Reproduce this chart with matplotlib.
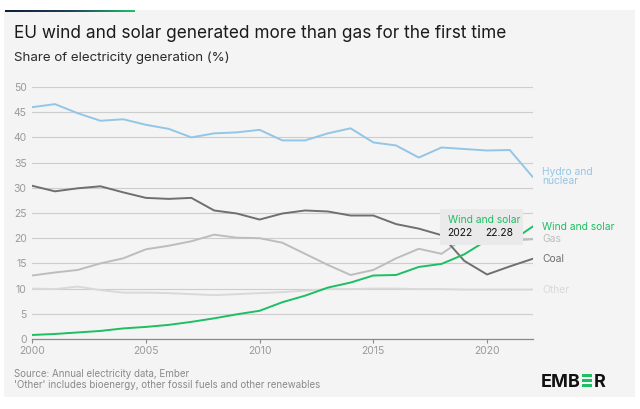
import matplotlib.pyplot as plt
import numpy as np
from matplotlib.patches import Rectangle
from matplotlib.transforms import Affine2D
from matplotlib.colors import LinearSegmentedColormap

plt.rcParams['font.family'] = ['Inter', 'DejaVu Sans']

years = list(range(2000, 2023))
hydro_nuclear = [46.0, 46.6, 44.8, 43.3, 43.6, 42.5, 41.7, 40.0, 40.8, 41.0, 41.5, 39.4,
                 39.4, 40.8, 41.8, 39.0, 38.4, 36.0, 38.0, 37.7, 37.4, 37.5, 32.2]
coal = [30.4, 29.3, 29.9, 30.3, 29.1, 28.0, 27.8, 28.0, 25.5, 24.9, 23.7, 24.9,
        25.5, 25.3, 24.5, 24.5, 22.8, 21.9, 20.6, 15.5, 12.8, 14.4, 15.9]
gas = [12.6, 13.2, 13.7, 15.0, 16.0, 17.8, 18.5, 19.4, 20.7, 20.1, 20.0, 19.1,
       16.9, 14.7, 12.7, 13.7, 16.0, 17.9, 16.9, 20.0, 20.0, 19.5, 19.8]
other = [10.0, 9.9, 10.4, 9.7, 9.2, 9.2, 9.1, 8.9, 8.7, 8.9, 9.1, 9.3,
         9.6, 9.9, 9.9, 10.0, 10.0, 9.9, 9.9, 9.8, 9.8, 9.8, 9.8]
wind_solar = [0.8, 1.0, 1.3, 1.6, 2.1, 2.4, 2.8, 3.4, 4.1, 4.9, 5.6, 7.3,
              8.6, 10.2, 11.2, 12.6, 12.7, 14.3, 14.9, 16.8, 19.6, 19.2, 22.28]

series = [
    ("Hydro and\nnuclear", hydro_nuclear, "#93c6e6"),
    ("Other", other, "#d9d9d9"),
    ("Gas", gas, "#bdbdbd"),
    ("Coal", coal, "#6f6f6f"),
    ("Wind and solar", wind_solar, "#1dbf62"),
]

fig = plt.figure(figsize=(6.4, 4.09), dpi=100, facecolor="white")
W, H = 640, 409

# grey card background and the small gradient bar on top
fig.patches.append(Rectangle((4 / W, 1 - 397 / H), 631 / W, 387 / H,
                             transform=fig.transFigure, facecolor="#f4f4f4",
                             edgecolor="none", zorder=-10))
bar = fig.add_axes([5 / W, 1 - 12 / H, 130 / W, 2.5 / H])
grad = np.linspace(0, 1, 256).reshape(1, -1)
bar.imshow(grad, aspect="auto",
           cmap=LinearSegmentedColormap.from_list("g", ["#0c1e3c", "#1f3f5a", "#21c06a"]))
bar.axis("off")

fig.text(14 / W, 1 - 33 / H, "EU wind and solar generated more than gas for the first time",
         fontsize=12.4, color="#1a1a1a", va="center", ha="left")
fig.text(14 / W, 1 - 58 / H, "Share of electricity generation (%)",
         fontsize=9.6, color="#2a2a2a", va="center", ha="left")

ax = fig.add_axes([32.2 / W, 1 - 339 / H, 500.3 / W, 252 / H])
ax.set_facecolor("none")
ax.set_xlim(2000, 2022)
ax.set_ylim(0, 50)
ax.set_yticks(range(0, 51, 5))
ax.set_xticks(range(2000, 2021, 5))
ax.grid(axis="y", color="#cdcdcd", linewidth=0.8)
ax.set_axisbelow(True)
for s in ["top", "right", "left"]:
    ax.spines[s].set_visible(False)
ax.spines["bottom"].set_color("#8a8a8a")
ax.spines["bottom"].set_linewidth(0.9)
ax.tick_params(axis="y", length=0, pad=4, labelsize=7.5, labelcolor="#9a9a9a")
ax.tick_params(axis="x", length=3, color="#8a8a8a", pad=2, labelsize=7.5, labelcolor="#9a9a9a")

for name, vals, col in series:
    ax.plot(years, vals, color=col, linewidth=1.4, solid_joinstyle="round")
    ax.annotate(name, xy=(years[-1], vals[-1]), xytext=(10, 0), textcoords="offset pixels",
                color=col, fontsize=7.4, va="center", ha="left", linespacing=0.9,
                annotation_clip=False)

# tooltip for 2022 wind and solar
px, py = ax.transData.transform((years[-1], wind_solar[-1]))
box = Rectangle((0, 0), 83, 36, transform=Affine2D().translate(px - 92.5, py - 18.5),
                facecolor="#eaeaea", edgecolor="none", zorder=5, clip_on=False)
ax.add_patch(box)
tip = dict(xy=(years[-1], wind_solar[-1]), textcoords="offset pixels", fontsize=7.4,
           va="center", zorder=6, annotation_clip=False)
ax.annotate("Wind and solar", xytext=(-85, 7), color="#1dbf62", ha="left", **tip)
ax.annotate(str(years[-1]), xytext=(-85, -6), color="#111111", ha="left", **tip)
ax.annotate(f"{wind_solar[-1]:.2f}", xytext=(-19, -6), color="#111111", ha="right", **tip)

fig.text(14 / W, 1 - 374 / H, "Source: Annual electricity data, Ember",
         fontsize=7.0, color="#8a8a8a", va="center", ha="left")
fig.text(14 / W, 1 - 385 / H, "'Other' includes bioenergy, other fossil fuels and other renewables",
         fontsize=7.0, color="#8a8a8a", va="center", ha="left")

# logo: "EMB" + green bar-E + "R"
r = fig.canvas.get_renderer()
t1 = fig.text(541 / W, 1 - 387 / H, "EMB", fontsize=13, fontweight="bold",
              color="#111111", va="baseline", ha="left")
b1 = t1.get_window_extent(r)
cap = 13.0
ew = 10.0
bh = 2.6
for frac in (0.0, 0.5, 1.0):
    y0 = (409 - 387) + frac * (cap - bh)
    fig.patches.append(Rectangle(((b1.x1 + 1.5) / W, y0 / H), ew / W, bh / H,
                                 transform=fig.transFigure, facecolor="#1dbf62",
                                 edgecolor="none"))
fig.text((b1.x1 + ew + 2.5) / W, 1 - 387 / H, "R", fontsize=13, fontweight="bold",
         color="#111111", va="baseline", ha="left")

fig.savefig("out.png", dpi=100, facecolor="white")
